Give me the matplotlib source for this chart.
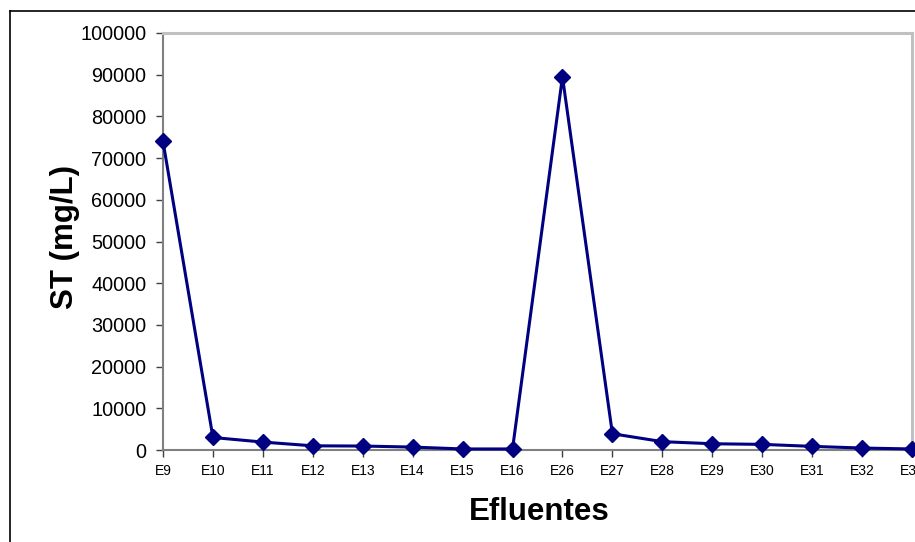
import matplotlib
matplotlib.use("Agg")
import matplotlib.pyplot as plt
from matplotlib.lines import Line2D

categories = ["E9", "E10", "E11", "E12", "E13", "E14", "E15", "E16",
              "E26", "E27", "E28", "E29", "E30", "E31", "E32", "E33"]
st_values = [74000, 3000, 1900, 1000, 950, 700, 250, 250,
             89500, 3900, 2000, 1500, 1350, 870, 470, 250]
y_ticks = list(range(0, 100001, 10000))

plt.rcParams["font.family"] = ["Liberation Sans", "DejaVu Sans"]

W, H = 915, 542
fig = plt.figure(figsize=(W / 100, H / 100), dpi=100)

# outer chart frame
fig.add_artist(Line2D([10 / W, 10 / W], [0, 1 - 11 / H], color="black", lw=1.2,
                      transform=fig.transFigure))
fig.add_artist(Line2D([10 / W, 1], [1 - 11 / H, 1 - 11 / H], color="black", lw=1.2,
                      transform=fig.transFigure))

ax = fig.add_axes([163 / W, 1 - 450 / H, (912 - 163) / W, (450 - 33) / H])

x = list(range(len(categories)))
ax.plot(x, st_values, color="#000080", lw=2.2, marker="D", markersize=8,
        markerfacecolor="#000080", markeredgecolor="#000080", clip_on=False, zorder=5)

ax.set_xlim(0, len(categories) - 1)
ax.set_ylim(0, 100000)
ax.set_yticks(y_ticks)
ax.set_yticklabels([str(v) for v in y_ticks], fontsize=14.3)
ax.set_xticks(x)
ax.set_xticklabels(categories, fontsize=10)

for side in ("left", "bottom"):
    ax.spines[side].set_color("#808080")
    ax.spines[side].set_linewidth(1.5)
for side in ("top", "right"):
    ax.spines[side].set_color("#c0c0c0")
    ax.spines[side].set_linewidth(2.2)

ax.tick_params(axis="y", direction="out", length=5, width=1, color="#404040", pad=7)
ax.tick_params(axis="x", direction="out", length=5, width=1, color="#404040", pad=5)

fig.text(65 / W, 1 - 237 / H, "ST (mg/L)", fontsize=22.5, fontweight="bold",
         rotation=90, ha="center", va="center")
fig.text(539 / W, 1 - 512 / H, "Efluentes", fontsize=22.5, fontweight="bold",
         ha="center", va="center")

fig.savefig("out.png", dpi=100)
